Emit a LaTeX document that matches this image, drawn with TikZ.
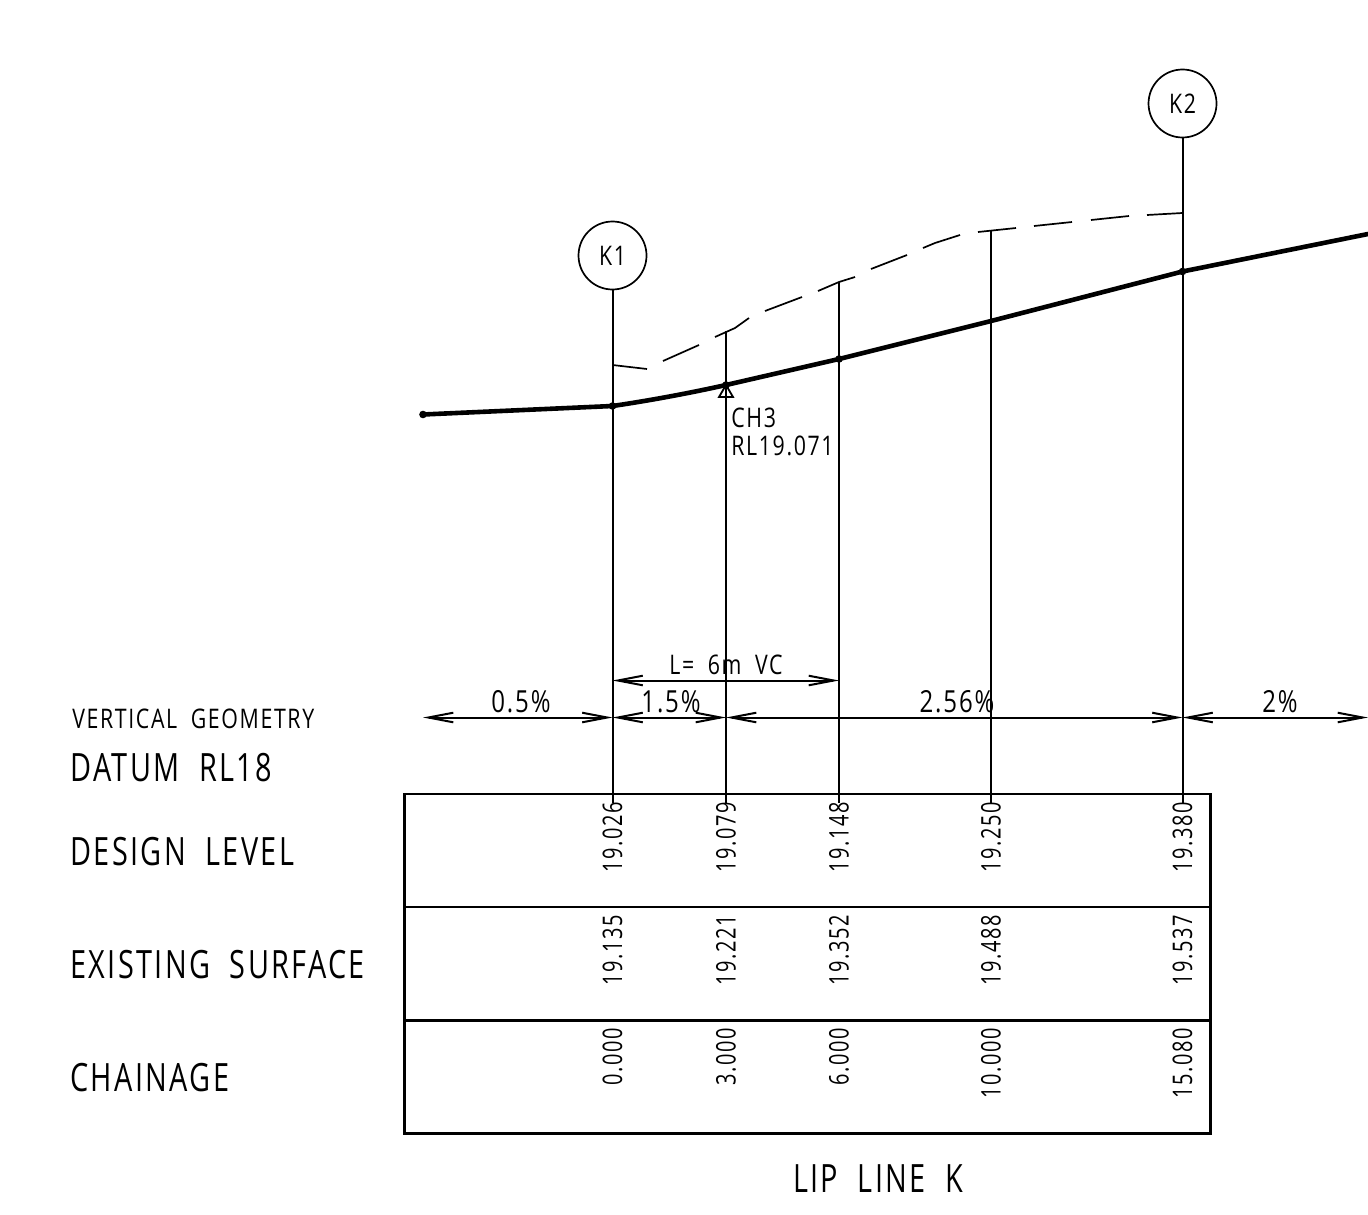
\documentclass[tikz,border=0pt]{standalone}
\usepackage{fontspec}
\setmainfont{Open Sans}
\newfontfamily\cadfont[LetterSpace=6,FakeStretch=0.79,WordSpace=1.9]{Open Sans}
\newfontfamily\cadnarrow[LetterSpace=6,FakeStretch=0.74,WordSpace=2.0]{Open Sans}
\usetikzlibrary{arrows.meta}
\tikzset{
  x=0.5pt,y=-0.5pt,
  thinl/.style={line width=1pt,black},
  boxl/.style={line width=1.1pt,black},
  roadl/.style={line width=2.3pt,black,line cap=round,line join=round},
  dashl/.style={line width=0.85pt,black},
  bubble/.style={draw,circle,line width=0.85pt,minimum size=34pt,inner sep=0pt,font=\cadfont\fontsize{13.5}{13.5}\selectfont},
  lbl/.style={inner sep=0pt,anchor=west,font=\cadnarrow\fontsize{19.5}{19.5}\selectfont},
  small/.style={inner sep=0pt,font=\cadfont\fontsize{13.5}{13.5}\selectfont},
  pct/.style={inner sep=0pt,font=\cadfont\fontsize{15.2}{15.2}\selectfont},
  val/.style={inner sep=0pt,rotate=90,anchor=east,font=\cadnarrow\fontsize{13.5}{13.5}\selectfont},
  dim/.style={line width=1pt,black,{Straight Barb[length=12.5pt,width=4.8pt,line width=1pt]}-{Straight Barb[length=12.5pt,width=4.8pt,line width=1pt]}},
  pt/.style={circle,fill=black,inner sep=0pt,minimum size=3.8pt}
}
\begin{document}
\begin{tikzpicture}
\useasboundingbox (0,0) rectangle (1368,1214);
% table
\draw[boxl] (404.5,794) rectangle (1210.5,1133.5);
\draw[boxl] (404.5,907) -- (1210.5,907);
\draw[boxl] (404.5,1020.5) -- (1210.5,1020.5);
% bubbles
\node[bubble] (K1) at (612.5,255.5) {K1};
\node[bubble] (K2) at (1182.5,103.5) {K2};
% named points
\coordinate (a0) at (423,414.5);
\coordinate (a1) at (612.5,406);
\coordinate (a2) at (726,385);
\coordinate (a3) at (839,359);
\coordinate (a4) at (991,321);
\coordinate (a5) at (1182.5,271.5);
\coordinate (a6) at (1368,234);
\coordinate (b1) at (612.5,803);
\coordinate (b2) at (726,803);
\coordinate (b3) at (839,803);
\coordinate (b4) at (991,803);
\coordinate (b5) at (1182.5,803);
\coordinate (t2) at (726,331);
\coordinate (t3) at (839,282);
\coordinate (t4) at (991,231);
% verticals
\draw[thinl] (K1) -- (b1);
\draw[thinl] (K2) -- (b5);
\draw[thinl] (t2) -- (b2);
\draw[thinl] (t3) -- (b3);
\draw[thinl] (t4) -- (b4);
% road profile
\draw[roadl] (a0) -- (a1) .. controls (650,400.5) and (690,393) .. (a2) -- (a3) -- (a4) -- (a5) -- (a6);
\node[pt] at (a0) {};
\node[pt] at (a1) {};
\node[pt] at (a2) {};
\node[pt] at (a3) {};
\node[pt] at (a5) {};
\draw[line width=0.9pt] (726,385) -- (719,397) -- (733,397) -- cycle;
% dashed existing surface
\draw[dashl] (612.5,365) -- (647,369);
\draw[dashl] (663,361) -- (699,345);
\draw[dashl] (715,337) -- (735,328) -- (749,318);
\draw[dashl] (765,311) -- (802,297);
\draw[dashl] (818,291) -- (839,282) -- (855,277);
\draw[dashl] (871,269) -- (907,255);
\draw[dashl] (923,248) -- (935,243) -- (960,235);
\draw[dashl] (978,232) -- (1016,228);
\draw[dashl] (1034,226) -- (1072,222);
\draw[dashl] (1091,220) -- (1129,216);
\draw[dashl] (1147,215) -- (1182.5,213);
% dimension lines
\coordinate (d0) at (423,717.5);
\coordinate (d1) at (612.5,717.5);
\coordinate (d2) at (726,717.5);
\coordinate (d3) at (1182.5,717.5);
\coordinate (d4) at (1368,717.5);
\coordinate (e1) at (612.5,680.5);
\coordinate (e2) at (839,680.5);
\draw[dim] (d0) -- (d1);
\draw[dim] (d1) -- (d2);
\draw[dim] (d2) -- (d3);
\draw[dim] (d3) -- (d4);
\draw[dim] (e1) -- (e2);
% labels
\node[pct] (s1) at (521,702) {0.5\%};
\node[pct] (s2) at (671,702) {1.5\%};
\node[pct] (s3) at (957,702) {2.56\%};
\node[pct] (s4) at (1280,702) {2\%};
\node[small] (lvc) at (726,665) {L= 6m VC};
\node[small,anchor=west,align=left] (ch) at (731,418) {CH3};
\node[small,anchor=west,align=left] (rl) at (731,446) {RL19.071};
\node[small,anchor=west] (vg) at (72,719) {VERTICAL GEOMETRY};
\node[lbl] (dat) at (70,768) {DATUM RL18};
\node[lbl] (des) at (70,852) {DESIGN LEVEL};
\node[lbl] (ex) at (70,965) {EXISTING SURFACE};
\node[lbl] (chn) at (70,1078) {CHAINAGE};
\node[lbl,anchor=center] (title) at (878,1179) {LIP LINE K};
% values
\foreach \x/\v in {612.5/19.026,726/19.079,839/19.148,991/19.250,1182.5/19.380}{
  \node[val] at (\x,802) {\v};}
\foreach \x/\v in {612.5/19.135,726/19.221,839/19.352,991/19.488,1182.5/19.537}{
  \node[val] at (\x,914.5) {\v};}
\foreach \x/\v in {612.5/0.000,726/3.000,839/6.000,991/10.000,1182.5/15.080}{
  \node[val] at (\x,1027.5) {\v};}
\end{tikzpicture}
\end{document}
